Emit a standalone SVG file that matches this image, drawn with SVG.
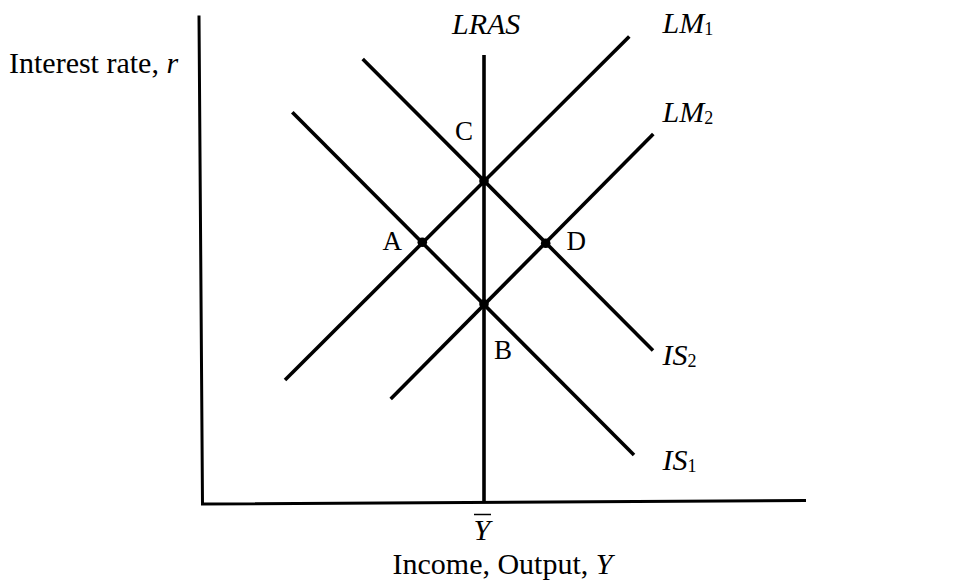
<svg xmlns="http://www.w3.org/2000/svg" width="956" height="581" viewBox="0 0 956 581">
<style>
.t{font-family:"Liberation Serif","Times New Roman",serif;font-size:30px;fill:#000}
.i{font-style:italic}
.sub{font-size:18px;font-style:normal}
.pt{font-family:"Liberation Serif","Times New Roman",serif;font-size:27px;fill:#000}
.ln{stroke:#000;stroke-width:3.6;fill:none;stroke-linecap:butt}
.ax{stroke:#000;stroke-width:3;fill:none}
.dot{fill:#000}
</style>
<rect width="956" height="581" fill="#fff"/>
<g id="axes">
<polyline class="ax" points="199,15.5 202.5,504 806,500.5"/>
<text class="t" x="9" y="73">Interest rate, <tspan class="i">r</tspan></text>
<text class="t" x="392.5" y="573.5">Income, Output, <tspan class="i">Y</tspan></text>
<text class="t i" x="473.5" y="540">Y</text>
<line x1="474" y1="514.5" x2="491" y2="514.5" stroke="#000" stroke-width="1.5"/>
</g>
<g id="connectors">
<line id="LRAS-line" class="ln" x1="484" y1="55" x2="484" y2="503"/>
<line id="IS1-line" class="ln" x1="292.3" y1="112.3" x2="634" y2="455"/>
<line id="IS2-line" class="ln" x1="362.7" y1="59" x2="653" y2="350.5"/>
<line id="LM1-line" class="ln" x1="285" y1="380" x2="629.3" y2="36.5"/>
<line id="LM2-line" class="ln" x1="390.7" y1="399" x2="653.3" y2="134"/>
</g>
<g id="LRAS"><text class="t i" x="452" y="34">LRAS</text></g>
<g id="LM1"><text class="t i" x="662.5" y="32.5">LM<tspan class="sub" dy="2">1</tspan></text></g>
<g id="LM2"><text class="t i" x="662.5" y="121.5">LM<tspan class="sub" dy="2">2</tspan></text></g>
<g id="IS2"><text class="t i" x="662.5" y="365">IS<tspan class="sub" dy="2">2</tspan></text></g>
<g id="IS1"><text class="t i" x="662.5" y="470">IS<tspan class="sub" dy="2">1</tspan></text></g>
<g id="A"><circle class="dot" cx="422.3" cy="242.3" r="4.8"/><text class="pt" x="382.5" y="249.5">A</text></g>
<g id="B"><circle class="dot" cx="484" cy="304" r="4.8"/><text class="pt" x="494" y="358.5">B</text></g>
<g id="C"><circle class="dot" cx="484" cy="181" r="4.8"/><text class="pt" x="455" y="140">C</text></g>
<g id="D"><circle class="dot" cx="545.7" cy="243.3" r="4.8"/><text class="pt" x="566.5" y="249.5">D</text></g>
</svg>
